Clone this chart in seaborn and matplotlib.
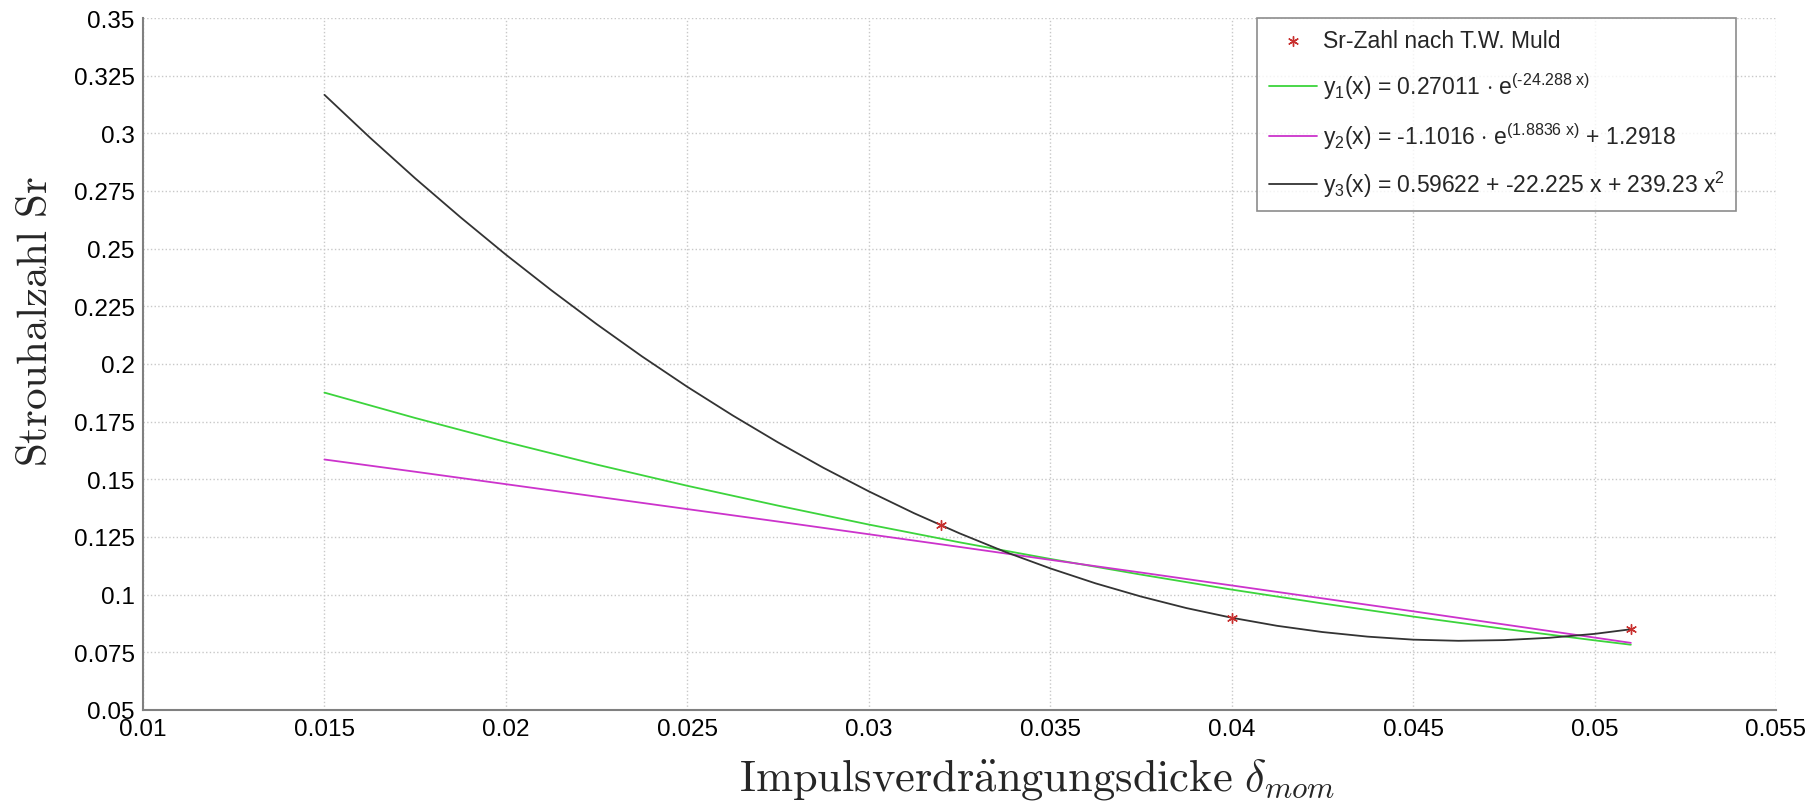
import numpy as np
import pandas as pd
import matplotlib
matplotlib.use("Agg")
import matplotlib.pyplot as plt
import seaborn as sns

# ---- data ----
meas_x = [0.032, 0.040, 0.051]
meas_y = [0.130, 0.090, 0.085]

fit_x = [0.015, 0.0175, 0.020, 0.0225, 0.025, 0.0275, 0.030, 0.0325, 0.035,
         0.0375, 0.040, 0.0425, 0.045, 0.0475, 0.050, 0.051]
y1_vals = [0.1876, 0.1766, 0.1662, 0.1564, 0.1472, 0.1386, 0.1304, 0.1227, 0.1155,
           0.1087, 0.1022, 0.0962, 0.0905, 0.0852, 0.0802, 0.0783]
y2_vals = [0.1586, 0.1533, 0.1479, 0.1425, 0.1371, 0.1317, 0.1262, 0.1207, 0.1151,
           0.1096, 0.1040, 0.0984, 0.0928, 0.0871, 0.0814, 0.0791]

y3_x = [0.015, 0.01625, 0.0175, 0.01875, 0.020, 0.02125, 0.0225, 0.02375, 0.025,
        0.02625, 0.0275, 0.02875, 0.030, 0.03125, 0.0325, 0.03375, 0.035, 0.03625,
        0.0375, 0.03875, 0.040, 0.04125, 0.0425, 0.04375, 0.045, 0.04625, 0.0475,
        0.04875, 0.050, 0.051]
y3_vals = [0.3167, 0.2982, 0.2805, 0.2636, 0.2474, 0.2320, 0.2173, 0.2033, 0.1901,
           0.1777, 0.1660, 0.1550, 0.1448, 0.1353, 0.1266, 0.1186, 0.1114, 0.1049,
           0.0992, 0.0942, 0.0900, 0.0865, 0.0838, 0.0818, 0.0805, 0.0800, 0.0803,
           0.0813, 0.0830, 0.0850]

x_ticks = [0.01, 0.015, 0.02, 0.025, 0.03, 0.035, 0.04, 0.045, 0.05, 0.055]
y_ticks = [0.05, 0.075, 0.1, 0.125, 0.15, 0.175, 0.2, 0.225, 0.25, 0.275, 0.3, 0.325, 0.35]

labels = [
    "Sr-Zahl nach T.W. Muld",
    r"y$_1$(x) = 0.27011 $\cdot$ e$^{\text{(-24.288 x)}}$",
    r"y$_2$(x) = -1.1016 $\cdot$ e$^{\text{(1.8836 x)}}$ + 1.2918",
    r"y$_3$(x) = 0.59622 + -22.225 x + 239.23 x$^2$",
]
colors = ["#c8302f", "#3cd43c", "#cc33cc", "#333333"]

sns.set_style("white")
plt.rcParams["font.family"] = ["Liberation Sans", "DejaVu Sans"]
plt.rcParams["mathtext.fontset"] = "custom"
plt.rcParams["mathtext.rm"] = "Liberation Sans"
plt.rcParams["mathtext.it"] = "Liberation Sans:italic"
plt.rcParams["mathtext.bf"] = "Liberation Sans:bold"
plt.rcParams["mathtext.sf"] = "Liberation Sans"

fig = plt.figure(figsize=(18.14, 8.03), dpi=100)
ax = fig.add_axes([143 / 1814, 1 - 711 / 803, (1776 - 143) / 1814, (711 - 19) / 803])

df_meas = pd.DataFrame({"x": meas_x, "y": meas_y})
sns.scatterplot(data=df_meas, x="x", y="y", ax=ax, marker=(6, 2, 0), s=50,
                color=colors[0], edgecolor=colors[0], linewidth=1.0, label=labels[0], zorder=5)

for xs, vals, lab, col in zip([fit_x, fit_x, y3_x], [y1_vals, y2_vals, y3_vals], labels[1:], colors[1:]):
    d = pd.DataFrame({"x": xs, "y": vals})
    sns.lineplot(data=d, x="x", y="y", ax=ax, color=col, linewidth=1.3, label=lab)

ax.set_xlim(0.01, 0.055)
ax.set_ylim(0.05, 0.35)
ax.set_xticks(x_ticks)
ax.set_yticks(y_ticks)
ax.set_xticklabels([f"{v:g}" for v in x_ticks])
ax.set_yticklabels([f"{v:g}" for v in y_ticks])
ax.tick_params(direction="in", length=16, width=1.2, color="#808080",
               labelsize=17.5, pad=6, labelcolor="black")
ax.grid(True, linestyle=":", color="#c8c8c8", linewidth=1.0)

for s in ["top", "right"]:
    ax.spines[s].set_visible(False)
for s in ["left", "bottom"]:
    ax.spines[s].set_color("#808080")
    ax.spines[s].set_linewidth(1.5)

ax.set_xlabel(r"$\mathrm{Impulsverdr\ddot{a}ngungsdicke}\ \delta_{mom}$",
              fontsize=32, math_fontfamily="cm")
ax.set_ylabel(r"$\mathrm{Strouhalzahl\ Sr}$", fontsize=31, math_fontfamily="cm")
ax.xaxis.set_label_coords(0.5475, -0.066)
ax.yaxis.set_label_coords(-0.053, 0.563)

leg = ax.legend(loc="upper right", bbox_to_anchor=((1736 - 143) / (1776 - 143), 1.0),
                borderaxespad=0, fontsize=16.5, frameon=True, fancybox=False,
                edgecolor="#707070", handlelength=2.1, handletextpad=0.25,
                labelspacing=0.8, borderpad=0.5)
leg.get_frame().set_linewidth(1.2)

fig.savefig("out.png", dpi=100)
